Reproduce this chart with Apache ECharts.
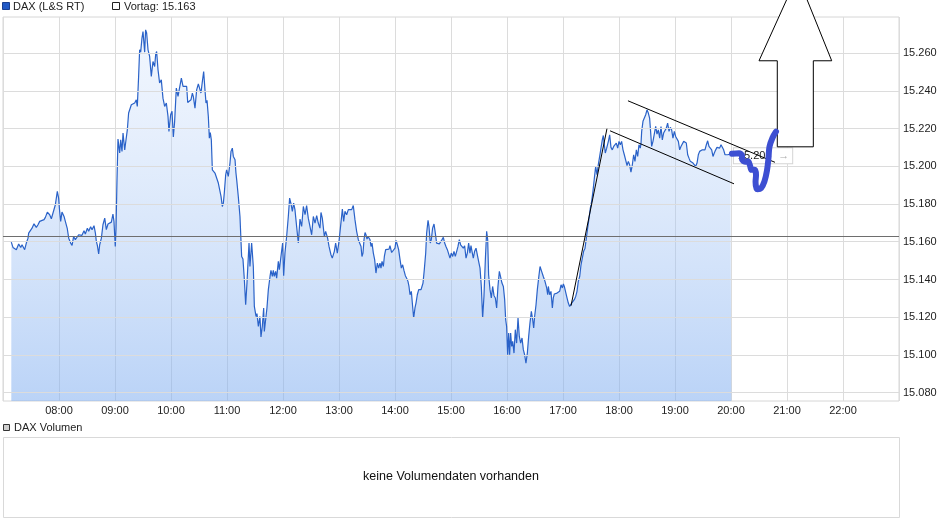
<!DOCTYPE html>
<html>
<head>
<meta charset="utf-8">
<script src="https://cdn.jsdelivr.net/npm/echarts@6/dist/echarts.min.js"></script>
<style>html,body{margin:0;padding:0;background:#fff}#c{width:940px;height:526px}</style>
</head>
<body>
<div id="c"></div>
<script>
// ---- data (time = minutes since midnight, price = index points) ----
const times = [428.9,430.7,434.3,436.8,439.0,440.4,443.2,445.0,446.8,447.5,449.6,451.1,453.2,455.7,457.5,459.3,461.1,464.0,465.4,467.5,470.0,471.8,473.6,476.1,478.2,479.6,480.7,481.8,483.2,485.4,486.8,488.9,490.4,492.5,494.0,495.7,497.5,499.6,501.1,503.2,504.6,506.8,508.2,510.4,511.8,513.9,515.4,517.5,519.0,520.0,521.1,522.5,523.6,525.4,527.1,529.0,530.7,532.5,534.3,536.1,537.8,538.9,540.3,541.1,542.1,543.2,545.0,546.1,547.5,548.6,550.4,551.1,553.2,554.6,556.1,557.5,559.3,561.1,562.8,563.9,565.3,566.4,567.5,568.9,570.0,571.1,571.8,572.8,573.9,575.4,577.1,578.9,580.7,582.5,583.6,584.6,586.1,587.8,589.6,591.4,593.2,595.0,596.8,597.8,599.6,601.1,602.5,603.9,605.7,607.5,609.3,611.1,612.9,614.6,
616.8,617.9,619.3,621.4,622.9,623.9,625.7,627.5,629.3,631.1,632.1,633.6,635.0,636.4,637.5,638.6,640.0,641.1,642.1,643.2,644.3,645.7,647.1,648.9,650.7,651.8,653.6,655.0,656.1,657.1,658.6,659.6,661.4,663.2,664.3,665.7,666.8,668.6,669.6,670.4,672.1,673.9,675.7,677.1,678.6,680.0,681.4,683.6,684.6,686.4,688.2,689.3,691.1,692.1,693.6,695.3,696.4,697.8,699.3,700.0,701.8,702.8,704.3,706.1,707.1,708.6,709.6,710.7,712.1,713.2,715.0,716.1,717.8,719.6,720.7,722.1,723.9,725.7,727.1,728.6,730.0,731.4,732.8,734.6,736.4,738.2,740.0,741.8,743.6,745.3,747.1,748.9,750.7,752.5,754.3,756.1,757.8,759.6,760.7,762.1,764.3,765.7,767.8,769.3,771.4,772.8,775.0,776.4,778.2,780.0,781.4,783.6,785.0,786.4,788.2,790.0,791.8,793.6,795.3,797.1,798.9,800.7,
802.5,803.6,804.6,805.7,806.8,807.9,808.9,810.0,811.1,812.1,813.2,814.3,815.4,816.8,818.2,819.6,821.1,822.5,823.9,825.0,826.1,827.5,828.6,830.0,831.8,833.6,834.6,836.4,838.2,840.0,841.1,842.5,843.9,845.4,846.8,848.2,849.6,851.1,852.5,853.9,855.0,856.1,857.5,858.9,860.0,861.4,862.5,863.9,865.4,866.8,867.9,868.9,870.0,871.4,872.9,873.9,875.4,876.4,877.8,878.9,880.3,881.8,883.2,884.6,886.1,887.5,888.9,890.4,891.8,893.2,894.6,896.1,897.5,898.9,900.3,901.8,903.2,904.6,906.1,907.5,908.9,910.3,911.8,913.2,914.6,916.1,917.5,918.9,920.3,921.4,922.5,923.9,925.3,926.8,928.2,929.6,931.1,932.5,933.9,935.3,936.8,938.2,939.3,940.3,941.8,943.2,944.6,946.1,947.5,948.9,950.3,951.8,953.2,954.6,956.1,957.5,958.6,959.6,960.7,961.8,962.8,963.9,965.0,966.1,967.5,968.9,970.3,971.8,973.2,974.6,976.1,977.5,978.9,980.3,981.8,983.2,984.6,986.1,987.5,988.6,989.6,991.1,992.5,993.9,995.4,
997.1,998.9,1000.7,1002.5,1003.6,1004.3,1005.7,1007.1,1008.6,1009.6,1010.7,1012.1,1013.6,1015.0,1016.4,1017.9,1019.3,1020.4,1021.4,1022.9,1024.3,1025.7,1027.1,1028.2,1029.3,1030.7,1032.1,1033.6,1035.0,1036.4,1037.9,1039.3,1040.7,1042.1,1043.6,1045.0,1046.4,1047.9,1049.3,1050.7,1052.1,1053.6,1055.0,1056.4,1057.8,1059.3,1060.7,1062.1,1063.2,1064.3,1065.3,1066.8,1068.6,1070.0,1071.4,1072.8,1074.3,1075.7,1077.1,1078.6,1080.0,1081.4,1082.8,1084.3,1085.7,1087.1,1088.6,1090.0,1091.4,1092.8,1094.3,1095.7,1097.1,1098.6,1100.0,1101.4,1102.8,1103.6,1104.3,1105.7,1107.1,1108.6,1110.0,1111.4,1112.8,1113.6,1115.0,1116.4,1117.8,1119.3,1120.7,1122.1,1123.6,1125.0,1126.4,1127.8,1129.3,1130.7,1132.1,1133.6,1135.0,1136.4,1137.8,1139.3,1140.7,1142.1,1143.6,1145.0,1146.4,1147.8,1149.3,1150.7,1152.1,1153.6,1155.0,1156.4,1157.8,1159.3,1160.7,1162.1,1163.6,1165.0,1166.4,1167.8,1169.3,1170.7,1172.1,1173.6,1175.0,1176.4,1177.8,1179.3,1180.7,1182.1,1183.6,1185.0,1186.4,1187.8,1189.3,1190.7,1192.1,1193.6,1195.0,1196.4,1197.9,1199.3,1200.4];
const prices = [15159.8,15157.0,15155.8,15158.8,15157.0,15158.4,15155.8,15159.3,15161.9,15164.6,15163.7,15167.2,15169.5,15167.6,15169.0,15170.8,15170.2,15171.7,15172.9,15175.7,15174.3,15172.2,15172.5,15179.6,15186.7,15183.1,15176.1,15170.8,15175.7,15173.4,15170.8,15166.9,15161.9,15159.3,15158.1,15162.8,15161.1,15161.9,15163.7,15164.6,15163.4,15165.8,15164.1,15167.2,15165.5,15167.9,15166.4,15168.5,15164.6,15160.2,15158.1,15153.5,15158.4,15161.9,15169.0,15172.5,15166.4,15169.4,15169.0,15170.4,15174.7,15170.8,15157.5,15167.2,15192.0,15214.4,15207.0,15214.0,15207.9,15217.6,15208.7,15211.4,15219.3,15228.2,15228.7,15232.6,15231.7,15233.5,15235.2,15231.7,15247.6,15261.7,15260.5,15267.9,15271.4,15270.6,15260.5,15272.3,15270.6,15261.7,15258.2,15247.6,15255.5,15252.9,15259.4,15260.8,15251.1,15244.1,15245.8,15236.1,15231.7,15233.5,15226.4,15218.5,15227.3,15229.1,15215.5,15223.8,15241.4,15237.0,15237.0,15246.7,15242.3,15241.4,
15242.3,15233.8,15233.5,15235.2,15238.8,15237.0,15230.8,15240.5,15243.7,15243.2,15238.8,15244.9,15250.2,15240.5,15233.5,15234.9,15226.4,15214.9,15217.9,15214.0,15198.1,15199.0,15196.4,15196.4,15191.1,15192.0,15184.0,15178.7,15180.5,15185.8,15195.5,15198.1,15194.6,15201.7,15207.9,15209.6,15205.2,15203.4,15196.4,15192.8,15184.0,15173.4,15152.2,15150.8,15139.9,15126.6,15138.1,15159.3,15146.9,15159.3,15146.9,15125.7,15120.4,15121.9,15115.1,15120.4,15109.5,15115.1,15124.9,15112.5,15112.5,15124.9,15134.6,15141.6,15144.8,15141.6,15144.8,15141.6,15144.3,15140.7,15149.6,15145.2,15152.2,15159.3,15142.0,15154.0,15162.8,15173.4,15183.1,15180.1,15176.1,15180.5,15177.0,15168.1,15159.3,15172.0,15168.1,15178.7,15174.3,15179.2,15172.5,15171.7,15163.7,15173.4,15169.9,15173.8,15169.9,15167.2,15175.5,15172.5,15162.8,15165.5,15161.9,15157.5,15153.1,15151.3,15154.9,15159.3,15154.0,15160.2,15161.1,15177.3,15170.8,15176.1,15174.3,15177.0,15177.3,15177.0,15179.2,15171.7,15165.5,15161.1,
15161.1,15157.5,15152.2,15154.0,15161.1,15164.9,15163.7,15161.4,15162.8,15163.5,15161.1,15157.5,15159.3,15154.0,15150.5,15143.4,15148.7,15146.0,15148.7,15146.0,15149.6,15146.9,15152.2,15155.8,15154.9,15156.1,15157.9,15154.3,15154.3,15156.6,15160.7,15158.4,15155.8,15150.5,15146.0,15147.8,15144.8,15142.0,15140.7,15139.0,15136.3,15131.9,15133.7,15125.7,15119.6,15124.9,15127.5,15131.9,15134.6,15135.5,15134.6,15136.3,15138.1,15145.2,15154.0,15164.6,15171.3,15168.1,15159.3,15161.1,15167.2,15169.4,15164.6,15159.3,15160.2,15158.9,15159.6,15161.1,15162.3,15159.3,15157.5,15155.8,15156.6,15151.3,15154.0,15152.2,15154.9,15152.2,15154.9,15157.5,15161.1,15158.4,15159.3,15156.6,15157.9,15151.3,15154.0,15159.3,15154.0,15157.9,15154.9,15151.3,15154.9,15156.6,15156.6,15149.6,15146.0,15136.3,15119.6,15131.0,15150.5,15165.5,15161.1,15142.5,15134.6,15130.2,15136.3,15131.4,15130.2,15124.9,15136.3,15144.3,15141.3,15138.1,15136.3,15129.3,15118.7,15115.1,15100.1,15111.6,15100.1,15111.6,15104.5,15107.2,15101.0,15113.4,15106.3,15119.6,15109.8,15106.3,15109.0,15102.8,15100.1,15095.7,15101.0,15109.8,15116.9,15123.1,15118.7,15114.3,15120.4,15126.6,15134.6,15140.7,15146.9,
15144.3,15141.6,15139.0,15135.5,15131.9,15136.3,15131.9,15133.7,15124.9,15130.2,15132.3,15131.6,15132.8,15131.9,15133.7,15137.2,15135.5,15137.6,15136.3,15135.5,15130.2,15127.5,15125.7,15124.9,15127.5,15126.6,15129.3,15131.0,15133.7,15139.0,15141.6,15147.8,15151.3,15154.9,15156.6,15161.9,15167.2,15172.5,15177.8,15181.4,15186.7,15193.7,15199.9,15195.5,15200.8,15205.2,15209.6,15214.0,15216.3,15215.8,15207.0,15209.6,15213.2,15216.7,15210.0,15208.7,15210.5,15209.6,15212.3,15209.6,15213.2,15211.4,15213.2,15208.7,15206.1,15203.4,15200.4,15202.6,15200.8,15196.9,15200.8,15206.1,15202.6,15208.7,15205.2,15211.4,15209.6,15212.3,15218.5,15223.8,15224.6,15227.3,15229.9,15228.2,15225.5,15220.2,15210.5,15213.2,15214.0,15221.1,15217.0,15219.3,15214.9,15221.1,15214.0,15217.6,15216.7,15220.2,15222.9,15218.5,15220.6,15219.3,15214.9,15218.5,15215.8,15216.7,15213.2,15208.7,15210.5,15211.4,15213.2,15214.0,15212.3,15206.1,15204.3,15202.6,15203.4,15201.7,15200.8,15199.9,15201.7,15206.1,15207.9,15207.0,15208.7,15207.9,15208.7,15211.4,15213.5,15210.5,15211.4,15208.7,15205.2,15207.0,15208.7,15210.0,15210.5,15209.6,15211.4,15210.5,15208.7,15206.1,15207.0,15206.1,15205.6,15206.4,15205.6];
const prevClose = 15163;
const seriesName = 'DAX (L&S RT)';
const volumeName = 'DAX Volumen';
const noVolumeText = 'keine Volumendaten vorhanden';
const xTicksMin = 420, xTicksMax = 1380, xTickStep = 60;
const yTicks = [15080,15100,15120,15140,15160,15180,15200,15220,15240,15260];
const yMin = 15075.6, yMax = 15279.1;

// hand-drawn annotations (data coordinates)
const trendT = [1028.6, 1067.1], trendV = [15126.1, 15219.9];
const upperT = [1089.6, 1247.1], upperV = [15234.7, 15202.1];
const lowerT = [1070.4, 1203.2], lowerV = [15218.8, 15190.7];
const arrowT = [1271.2, 1307.9, 1288.2, 1288.2, 1249.6, 1249.6, 1230.0];
const arrowV = [15300.9, 15255.9, 15255.9, 15210.3, 15210.3, 15255.9, 15255.9];
const scribbleT = [1201.0,1208.6,1211.8,1211.8,1215.0,1218.2,1220.4,1222.0,1225.2,1226.8,1226.3,1228.4,1232.1,1235.9,1238.5,1240.2,1241.2,1244.5,1248.2];
const scribbleV = [15206.6,15206.9,15205.8,15203.7,15202.4,15202.6,15200.3,15198.1,15198.1,15195.2,15191.8,15187.8,15188.3,15192.1,15197.6,15204.5,15210.3,15215.1,15218.3];

// ---- chart ----
const FF = '"Liberation Sans", Arial, sans-serif';
const fmtPts = v => (v / 1000).toFixed(3);
const fmtTime = v => { const h = Math.floor(v / 60), m = Math.round(v % 60); return (h < 10 ? '0' : '') + h + ':' + (m < 10 ? '0' : '') + m; };
const pairs = (a, b) => a.map((t, i) => [t, b[i]]);
const lastT = times[times.length - 1], lastV = prices[prices.length - 1];

const chart = echarts.init(document.getElementById('c'), null, { renderer: 'canvas' });
chart.setOption({
  animation: false,
  backgroundColor: '#fff',
  grid: { left: 3, top: 17, width: 896, height: 384, show: true, borderColor: '#d6d6d6', borderWidth: 1, backgroundColor: '#fff' },
  xAxis: {
    type: 'value', min: xTicksMin, max: xTicksMax, interval: xTickStep,
    axisLine: { show: false }, axisTick: { show: false },
    splitLine: { show: true, lineStyle: { color: '#dcdcdc', width: 1 } },
    axisLabel: { margin: 4, color: '#222', fontSize: 11, fontFamily: FF, showMinLabel: false, showMaxLabel: false,
      formatter: v => (v === xTicksMin || v === xTicksMax) ? '' : fmtTime(v) }
  },
  yAxis: {
    type: 'value', position: 'right', min: yMin, max: yMax, scale: true,
    axisLine: { show: false }, axisTick: { show: false }, splitLine: { show: false },
    axisLabel: { customValues: yTicks, margin: 4, color: '#222', fontSize: 11, fontFamily: FF, formatter: v => fmtPts(v) }
  },
  series: [
    { type: 'line', name: 'hgrid', data: [], z: 1, silent: true,
      markLine: { silent: true, symbol: ['none', 'none'], label: { show: false },
        lineStyle: { color: '#dcdcdc', type: 'solid', width: 1 },
        data: yTicks.map(v => ({ yAxis: v })) } },
    { type: 'line', name: seriesName, data: pairs(times, prices), z: 2, showSymbol: false, sampling: 'none',
      lineStyle: { color: '#2a62c8', width: 1.2 },
      areaStyle: { origin: 'start', opacity: 1, color: { type: 'linear', x: 0, y: 0, x2: 0, y2: 1,
        colorStops: [{ offset: 0, color: 'rgba(200,220,250,0.25)' }, { offset: 1, color: 'rgba(130,175,240,0.55)' }] } },
      markLine: { silent: true, symbol: ['none', 'none'], label: { show: false },
        lineStyle: { color: '#6e6e6e', type: 'solid', width: 1.2 }, data: [{ yAxis: prevClose }] },
      markPoint: { silent: true, symbol: 'circle', symbolSize: 1, itemStyle: { color: 'rgba(0,0,0,0)' },
        data: [{ coord: [lastT, lastV] }],
        label: { show: true, position: 'right', distance: 2,
          formatter: '{a|' + fmtPts(lastV) + '}  {b|\u2192}',
          backgroundColor: '#fff', borderColor: '#d4d4d4', borderWidth: 1, padding: [2, 3, 1, 4],
          rich: { a: { color: '#222', fontSize: 11, fontFamily: FF }, b: { color: '#aaa', fontSize: 11, fontFamily: FF } } } } },
    { type: 'line', name: 'trend', data: pairs(trendT, trendV), z: 5, showSymbol: false, clip: false, silent: true,
      lineStyle: { color: '#000', width: 1 } },
    { type: 'line', name: 'upper', data: pairs(upperT, upperV), z: 5, showSymbol: false, clip: false, silent: true,
      lineStyle: { color: '#000', width: 1 } },
    { type: 'line', name: 'lower', data: pairs(lowerT, lowerV), z: 5, showSymbol: false, clip: false, silent: true,
      lineStyle: { color: '#000', width: 1 } },
    { type: 'custom', name: 'arrow', data: pairs(arrowT, arrowV), z: 6, clip: false, silent: true,
      encode: { x: 0, y: 1 },
      renderItem: (params, api) => {
        if (params.dataIndex !== 0) return null;
        const pts = arrowT.map((t, i) => api.coord([t, arrowV[i]]));
        return { type: 'polygon', shape: { points: pts }, style: { fill: '#fff', stroke: '#000', lineWidth: 1 } };
      } },
    { type: 'line', name: 'scribble', data: pairs(scribbleT, scribbleV), z: 7, showSymbol: false, clip: false, silent: true,
      smooth: 0.35, lineStyle: { color: '#3d4fd2', width: 6, cap: 'round', join: 'round' } }
  ],
  graphic: [
    { type: 'rect', shape: { x: 2.5, y: 2.5, width: 7, height: 7 }, style: { fill: '#2159c6', stroke: '#1a3f90', lineWidth: 1 } },
    { type: 'text', x: 13, y: 6.5, style: { text: seriesName, font: '11px ' + FF, fill: '#222', verticalAlign: 'middle' } },
    { type: 'rect', shape: { x: 112.5, y: 2.5, width: 7, height: 7 }, style: { fill: '#fff', stroke: '#222', lineWidth: 1 } },
    { type: 'text', x: 124, y: 6.5, style: { text: 'Vortag: ' + fmtPts(prevClose), font: '11px ' + FF, fill: '#222', verticalAlign: 'middle' } },
    { type: 'rect', shape: { x: 3.5, y: 424.5, width: 6, height: 6 }, style: { fill: '#cfcfcf', stroke: '#333', lineWidth: 1 } },
    { type: 'text', x: 14, y: 428, style: { text: volumeName, font: '11px ' + FF, fill: '#222', verticalAlign: 'middle' } },
    { type: 'rect', shape: { x: 3.5, y: 437.5, width: 896, height: 80 }, style: { fill: '#fff', stroke: '#d9d9d9', lineWidth: 1 } },
    { type: 'text', x: 451, y: 477, style: { text: noVolumeText, font: '12.5px ' + FF, fill: '#111', align: 'center', verticalAlign: 'middle' } }
  ]
});
</script>
</body>
</html>
